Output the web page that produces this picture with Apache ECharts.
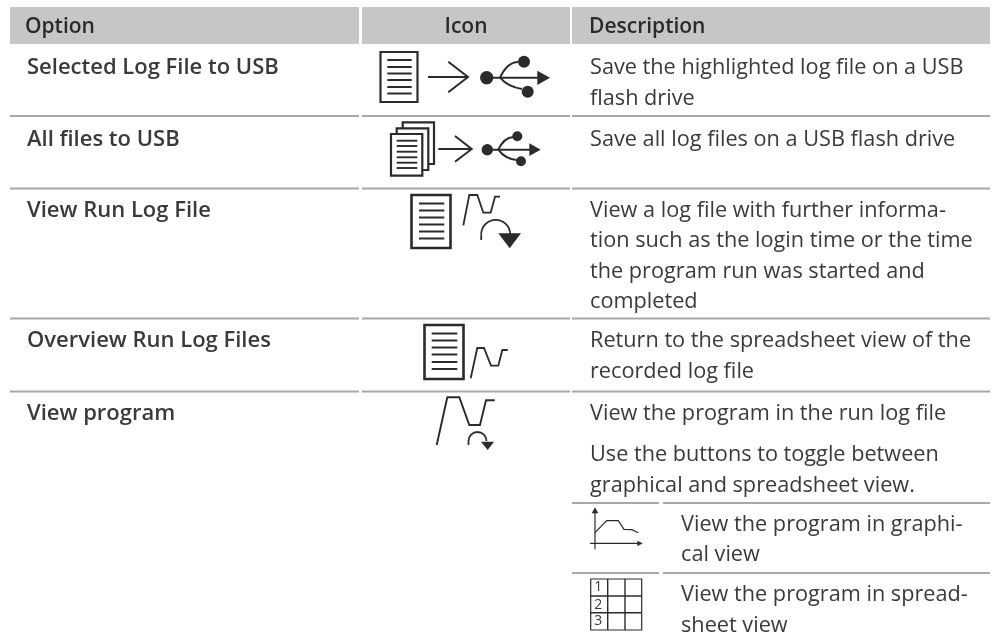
<!DOCTYPE html>
<html><head><meta charset="utf-8"><style>html,body{margin:0;padding:0;background:#fff}#c{width:994px;height:638px}</style>
<script src="https://cdn.jsdelivr.net/npm/echarts@6/dist/echarts.min.js"></script></head><body><div id="c"></div>
<script>
const headers = ["Option","Icon","Description"];
const options = ["Selected Log File to USB","All files to USB","View Run Log File","Overview Run Log Files","View program"];
const descriptions = [
 ["Save the highlighted log file on a USB","flash drive"],
 ["Save all log files on a USB flash drive"],
 ["View a log file with further informa-","tion such as the login time or the time","the program run was started and","completed"],
 ["Return to the spreadsheet view of the","recorded log file"],
 ["View the program in the run log file"],
 ["Use the buttons to toggle between","graphical and spreadsheet view."]
];
const subDescriptions = [["View the program in graphi-","cal view"],["View the program in spread-","sheet view"]];
const gridDigits = ["1","2","3"];
const F='"Open Sans"', INK='#2b2b2b', TXT='#3a3a3a', RULE='#a8a8a8', HEAD='#c6c6c6';
const els=[];
const chart=echarts.init(document.getElementById('c'),null,{renderer:'canvas'});
function T(x,y,s,o={}){els.push({type:'text',x,y:y+1.5,silent:true,style:{text:s,font:(o.w||'400')+' '+(o.s||21.7)+'px '+F,fill:o.c||TXT,textAlign:o.a||'left',textVerticalAlign:'middle'}});}
function R(x,y,w,h,f){els.push({type:'rect',shape:{x,y,width:w,height:h},style:{fill:f},silent:true});}
function SR(x,y,w,h,lw){els.push({type:'rect',shape:{x,y,width:w,height:h},style:{fill:'none',stroke:INK,lineWidth:lw||2},silent:true});}
function L(pts,lw){els.push({type:'polyline',shape:{points:pts},style:{fill:'none',stroke:INK,lineWidth:lw||2,lineJoin:'miter'},silent:true});}
function G(pts){els.push({type:'polygon',shape:{points:pts},style:{fill:INK},silent:true});}
function C(x,y,r){els.push({type:'circle',shape:{cx:x,cy:y,r},style:{fill:INK},silent:true});}
function Q(x1,y1,cx,cy,x2,y2,lw){els.push({type:'bezierCurve',shape:{x1,y1,x2,y2,cpx1:cx,cpy1:cy},style:{fill:'none',stroke:INK,lineWidth:lw||2},silent:true});}
function A(cx,cy,r,a0,lw){els.push({type:'arc',shape:{cx,cy,r,startAngle:a0,endAngle:2*Math.PI,clockwise:true},style:{fill:'none',stroke:INK,lineWidth:lw},silent:true});}
function lines(x0,x1,ys,lw){ys.forEach(y=>L([[x0,y],[x1,y]],lw||2));}

[[10,349],[362,208],[572,418]].forEach(a=>R(a[0],7,a[1],37,HEAD));
T(25,26,headers[0],{w:'600',c:'#2a2a2a',s:21});T(466,26,headers[1],{w:'600',a:'center',c:'#2a2a2a',s:21});T(589,26,headers[2],{w:'600',c:'#2a2a2a',s:21});
[115,187.5,317.5,390.5].forEach(y=>{R(10,y,349,2,RULE);R(362,y,208,2,RULE);R(572,y,418,2,RULE);});
[502,572].forEach(y=>{R(572,y,87,2,RULE);R(663,y,327,2,RULE);});
const oy=[66,138,209,339,412];
options.forEach((s,i)=>T(27,oy[i],s,{w:'600',s:22}));
const dy=[[66,97],[138],[209,239,270,300],[339,370],[412],[453,484]];
descriptions.forEach((l,i)=>l.forEach((s,j)=>T(590,dy[i][j],s)));
const sy=[[523,553],[593,624]];
subDescriptions.forEach((l,i)=>l.forEach((s,j)=>T(681,sy[i][j],s)));

// icon 1
SR(380.5,52,37,50,2.2);lines(387.3,411.7,[60,67,73.5,80,87,93.5]);
L([[428,77],[467,77]]);L([[448.3,61.7],[468,77],[448.3,92.3]]);
C(486.7,77.7,6.7);L([[486.7,77.7],[538,77.7]]);G([[537.3,70.7],[550,77.7],[537.3,85]]);
C(524,61.7,6);C(527.7,91.7,6);Q(500,77.7,507,62.5,518,62);Q(500,77.7,508,87,522,89);
// icon 2
SR(391,134,31.3,41.7,2.2);
L([[396.7,134],[396.7,128.3],[428.3,128.3],[428.3,170],[422.3,170]],2.2);
L([[402.7,128.3],[402.7,122.3],[434,122.3],[434,164],[428.3,164]],2.2);
lines(396.7,417.3,[140.7,146,151.7,157.3,162.7,168],1.9);
L([[438.3,149],[471,149]]);L([[455,136],[471.7,149],[455,161.7]]);
C(487.3,149.7,5.7);L([[487.3,149.7],[530,149.7]]);G([[529.3,143.3],[540.7,149.7],[529.3,156]]);
C(517.3,136.3,5);C(521,161.3,5);Q(498.3,149.7,504,137.5,513.3,137);Q(498.3,149.7,505,159,516.7,160);
// icon 3
SR(411.5,195,39,53,2.6);lines(419,444.3,[203.5,210.5,217.5,224.5,231.5,238.5]);
L([[463.3,225.3],[469.3,195],[477.3,195],[483.3,212.7],[490.7,212.7],[495,196.7],[500,196.7]],1.8);
A(495.7,234.3,14.5,Math.PI,1.8);L([[481.2,234.3],[481.2,240]],1.8);
G([[498.3,233.3],[521,233.3],[509.7,248.3]]);
// icon 4
SR(424.5,325,39,54,2.6);lines(431.7,457.3,[333.5,340.5,347.5,354.5,362,369]);
L([[470.7,378.3],[477.3,348],[484,348],[491,365.7],[498.3,365.7],[502.3,350],[507.7,350]],1.8);
// icon 5
L([[436.7,445],[447.3,397.3],[459.3,397.3],[469.3,425],[480,425],[486,400.3],[494.7,400.3]],1.9);
A(477.5,441,9,Math.PI,1.8);L([[468.5,441],[468.5,445]],1.8);
G([[481,441.7],[494,441.7],[487.7,450]]);
// graph icon
L([[595,510],[595,549.3]],1.2);G([[591.7,513.3],[598.3,513.3],[595,507.3]]);
L([[590,543.3],[638,543.3]],1.2);G([[637.3,540.7],[637.3,546.3],[642.7,543.3]]);
L([[595,532.7],[606.7,520.7],[618.3,520.7],[624,529.3],[631.7,529.7],[638.3,532.7]],1.2);
// grid icon
SR(590.7,579,51,51,1.2);
L([[607.7,579],[607.7,630]],1.4);L([[625,579],[625,630]],1.4);L([[590.7,596],[641.7,596]],1.4);L([[590.7,612.7],[641.7,612.7]],1.4);
gridDigits.forEach((d,i)=>T(598.3,[586,603.5,620][i],d,{s:14,a:'center'}));
chart.setOption({animation:false,graphic:{elements:els}});
</script></body></html>
